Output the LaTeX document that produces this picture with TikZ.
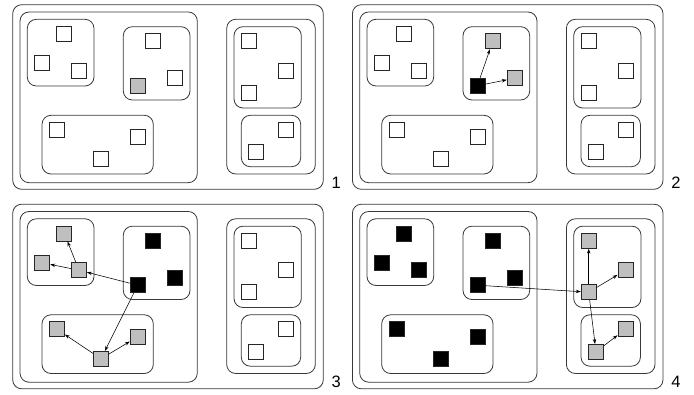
\documentclass[tikz,border=0pt]{standalone}
\usepackage{fontspec}
\setmainfont{Liberation Sans}
\usetikzlibrary{arrows.meta}
\newcommand{\panelbody}[1]{%
  \draw[grp] (12.7,4.7) rectangle (323.3,189.3);
  \draw[grp] (20,12) rectangle (197.3,182.7);
  \draw[grp] (226.7,19.3) rectangle (315.3,174);
  \draw[grp] (27.3,19.3) rectangle (94,86);
  \draw[grp] (123.3,26.7) rectangle (190,100);
  \draw[grp] (42,115.3) rectangle (153.3,174);
  \draw[grp] (234,26.7) rectangle (301.3,108);
  \draw[grp] (241.3,115.3) rectangle (300.7,166.7);
  \node[sA] (a1) at (64.3,34) {};
  \node[sA] (a2) at (42.3,63.3) {};
  \node[sA] (a3) at (79,70.7) {};
  \node[sB1] (b1) at (153,41.3) {};
  \node[sB2] (b2) at (137.7,85.7) {};
  \node[sB3] (b3) at (175,78.3) {};
  \node[sC] (c1) at (57,129.7) {};
  \node[sC] (c2) at (137.7,137.3) {};
  \node[sC] (c3) at (101,159.3) {};
  \node[sD] (d1) at (249,41.3) {};
  \node[sD] (d2) at (285.7,70.7) {};
  \node[sD] (d3) at (249,92.7) {};
  \node[sE] (e1) at (285.7,129.7) {};
  \node[sE] (e2) at (256.3,152.3) {};
  \node[lbl] (lab) at (331.5,182.7) {#1};
}
\begin{document}
\begin{tikzpicture}[x=1pt,y=-1pt,
  grp/.style={draw=black!78, line width=0.8pt, rounded corners=9pt},
  sq/.style={draw=black!85, line width=0.75pt, minimum size=15pt, inner sep=0pt},
  wh/.style={sq, fill=white},
  gr/.style={sq, fill=black!25},
  bk/.style={sq, fill=black},
  sA/.style={wh}, sB1/.style={wh}, sB2/.style={wh}, sB3/.style={wh},
  sC/.style={wh}, sD/.style={wh}, sE/.style={wh},
  arr/.style={-{Stealth[length=5pt,width=3.4pt]}, line width=0.55pt},
  lbl/.style={font=\fontsize{16.5}{16.5}\selectfont, anchor=west, inner sep=0pt}]
\useasboundingbox (0,0) rectangle (694,395);
\begin{scope}[name prefix=p1-, sB2/.style={gr}]
  \panelbody{1}
\end{scope}
\begin{scope}[shift={(339.7,0)}, name prefix=p2-, sB1/.style={gr}, sB2/.style={bk}, sB3/.style={gr}]
  \panelbody{2}
\end{scope}
\begin{scope}[shift={(0,199.5)}, name prefix=p3-, sA/.style={gr}, sB1/.style={bk}, sB2/.style={bk}, sB3/.style={bk}, sC/.style={gr}]
  \panelbody{3}
\end{scope}
\begin{scope}[shift={(339.7,199.5)}, name prefix=p4-, sA/.style={bk}, sB1/.style={bk}, sB2/.style={bk}, sB3/.style={bk}, sC/.style={bk}, sD/.style={gr}, sE/.style={gr}]
  \panelbody{4}
\end{scope}
\draw[arr] (p2-b2) -- (p2-b1);
\draw[arr] (p2-b2) -- (p2-b3);
\draw[arr] (p3-b2) -- (p3-a3);
\draw[arr] (p3-a3) -- (p3-a1);
\draw[arr] (p3-a3) -- (p3-a2);
\draw[arr] (p3-b2) -- (p3-c3);
\draw[arr] (p3-c3) -- (p3-c1);
\draw[arr] (p3-c3) -- (p3-c2);
\draw[arr] (p4-b2) -- (p4-d3);
\draw[arr] (p4-d3) -- (p4-d1);
\draw[arr] (p4-d3) -- (p4-d2);
\draw[arr] (p4-d3) -- (p4-e2);
\draw[arr] (p4-e2) -- (p4-e1);
\end{tikzpicture}
\end{document}
